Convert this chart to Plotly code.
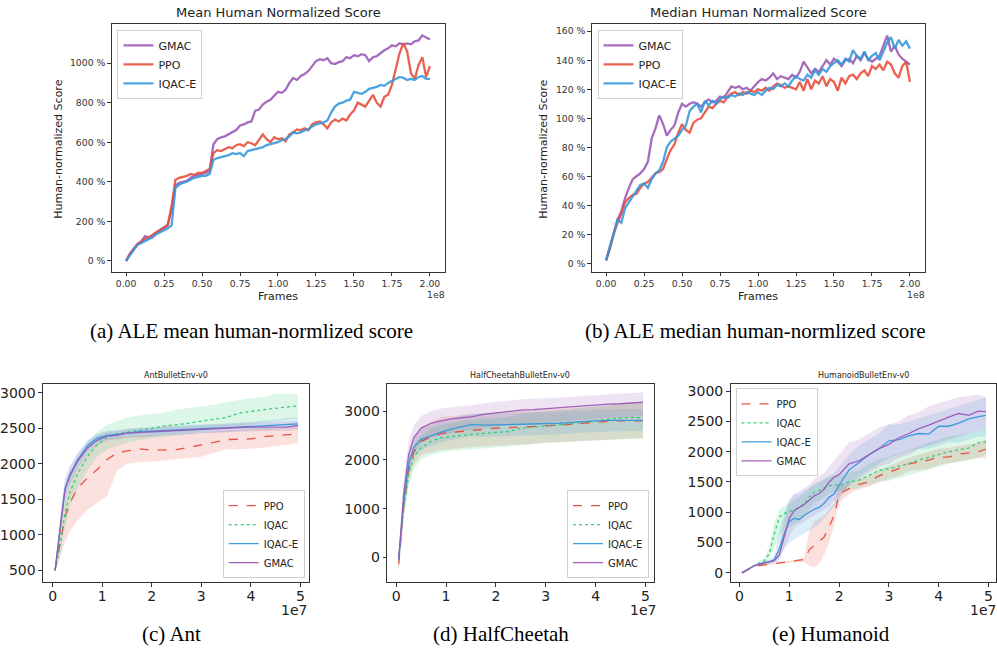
import plotly.graph_objects as go

W, H = 997, 649

# ---------------- ALE data (frames in units of 1e8, scores in %) ----------------
ale_frames = [i * 0.025 for i in range(81)]

ale_mean_gmac = [0, 35, 60, 85, 100, 125, 118, 130, 145, 158, 170, 185, 260, 382, 395, 400, 405, 420, 430, 435,
                 440, 445, 455, 590, 615, 625, 630, 640, 650, 662, 685, 690, 700, 705, 760, 765, 790, 805, 815, 835,
                 855, 850, 865, 900, 925, 915, 935, 945, 960, 985, 1010, 1020, 1015, 1025, 1000, 995, 1005, 1010, 1030, 1025,
                 1040, 1035, 1045, 1040, 1010, 1030, 1035, 1050, 1065, 1075, 1090, 1085, 1100, 1095, 1100, 1095, 1110, 1115, 1140, 1130,
                 1120]
ale_mean_ppo = [0, 35, 60, 85, 95, 110, 120, 130, 145, 155, 165, 180, 280, 410, 420, 425, 430, 440, 435, 445,
                445, 455, 465, 545, 560, 555, 565, 575, 570, 585, 590, 580, 600, 595, 585, 610, 640, 615, 600, 625,
                615, 620, 605, 640, 650, 665, 660, 670, 660, 690, 700, 705, 690, 670, 700, 715, 705, 720, 710, 740,
                760, 800, 790, 780, 810, 840, 800, 780, 830, 840, 890, 970, 1050, 1100, 1060, 950, 920, 990, 1030, 930,
                985]
ale_mean_iqace = [0, 30, 55, 80, 90, 100, 110, 120, 135, 145, 155, 165, 180, 370, 385, 395, 400, 410, 420, 425,
                  430, 430, 440, 510, 520, 525, 530, 535, 545, 540, 545, 530, 555, 560, 565, 570, 575, 585, 590, 595,
                  600, 610, 615, 630, 650, 645, 650, 660, 665, 680, 690, 695, 700, 710, 750, 780, 795, 800, 810, 815,
                  855, 850, 845, 855, 870, 875, 880, 890, 885, 900, 910, 920, 930, 925, 915, 920, 915, 930, 935, 920,
                  920]

ale_median_gmac = [2, 12, 20, 30, 36, 45, 52, 58, 60, 62, 65, 70, 86, 93, 102, 96, 88, 92, 95, 104,
                   110, 108, 110, 111, 110, 108, 111, 113, 111, 112, 115, 114, 118, 122, 121, 122, 120, 121, 119, 122,
                   125, 127, 126, 128, 131, 127, 129, 128, 127, 130, 128, 132, 139, 135, 131, 134, 132, 136, 140, 137,
                   141, 139, 136, 140, 141, 138, 143, 140, 145, 141, 139, 141, 143, 150, 157, 146, 150, 144, 141, 139,
                   137]
ale_median_ppo = [2, 10, 20, 28, 34, 42, 45, 47, 48, 52, 55, 56, 59, 62, 63, 65, 72, 78, 82, 90,
                  96, 92, 90, 97, 99, 100, 104, 108, 107, 110, 112, 111, 115, 117, 118, 116, 118, 117, 119, 118,
                  120, 119, 121, 119, 122, 124, 123, 121, 122, 121, 120, 125, 119, 127, 120, 126, 124, 129, 122, 127,
                  125, 119, 128, 124, 129, 130, 127, 131, 133, 129, 136, 134, 137, 133, 139, 137, 131, 128, 136, 139,
                  125]
ale_median_iqace = [2, 12, 20, 30, 28, 38, 42, 46, 50, 54, 55, 52, 58, 62, 64, 70, 80, 84, 86, 88,
                    92, 95, 105, 108, 110, 104, 112, 109, 112, 110, 113, 115, 114, 116, 115, 117, 116, 118, 117, 116,
                    118, 116, 119, 121, 120, 123, 122, 124, 122, 126, 129, 127, 126, 130, 128, 133, 130, 134, 132, 136,
                    138, 140, 137, 141, 139, 147, 143, 141, 146, 140, 143, 145, 140, 146, 152, 156, 148, 154, 150, 153,
                    148]

ale_x_ticks = [0, 0.25, 0.5, 0.75, 1.0, 1.25, 1.5, 1.75, 2.0]
ale_x_ticktext = ["0.00", "0.25", "0.50", "0.75", "1.00", "1.25", "1.50", "1.75", "2.00"]
mean_y_ticks = [0, 200, 400, 600, 800, 1000]
mean_y_ticktext = ["0 %", "200 %", "400 %", "600 %", "800 %", "1000 %"]
median_y_ticks = [0, 20, 40, 60, 80, 100, 120, 140, 160]
median_y_ticktext = ["0 %", "20 %", "40 %", "60 %", "80 %", "100 %", "120 %", "140 %", "160 %"]

# ---------------- PyBullet data (steps in units of 1e7) ----------------
bullet_steps = [0.05, 0.15, 0.25, 0.35, 0.5, 0.7, 0.9, 1.1, 1.3, 1.5, 1.75, 2.0, 2.25, 2.5, 2.75, 3.0,
                3.25, 3.5, 3.75, 4.0, 4.25, 4.5, 4.75, 4.95]

ant_ppo = [500, 900, 1250, 1450, 1650, 1800, 1920, 2060, 2150, 2180, 2210, 2190, 2200, 2200, 2230, 2260,
           2300, 2340, 2340, 2350, 2380, 2400, 2410, 2415]
ant_ppo_lo = [480, 700, 900, 1050, 1200, 1350, 1450, 1550, 1900, 2000, 2020, 2030, 2050, 2060, 2080, 2100,
              2150, 2200, 2210, 2210, 2230, 2250, 2270, 2290]
ant_ppo_hi = [540, 1100, 1500, 1750, 1950, 2150, 2280, 2350, 2370, 2380, 2390, 2400, 2400, 2410, 2420, 2440,
              2460, 2470, 2480, 2490, 2500, 2510, 2520, 2530]
ant_iqac = [500, 850, 1300, 1600, 1850, 2100, 2270, 2370, 2420, 2440, 2470, 2500, 2530, 2545, 2570, 2600,
            2620, 2650, 2710, 2740, 2760, 2780, 2800, 2815]
ant_iqac_lo = [480, 700, 1100, 1400, 1650, 1900, 2100, 2200, 2250, 2300, 2330, 2360, 2380, 2400, 2420, 2450,
               2470, 2500, 2530, 2550, 2570, 2600, 2620, 2640]
ant_iqac_hi = [540, 1000, 1500, 1800, 2050, 2300, 2450, 2550, 2600, 2650, 2680, 2700, 2720, 2760, 2780, 2800,
               2830, 2870, 2900, 2920, 2940, 2980, 2990, 2970]
ant_iqace = [500, 1100, 1650, 1850, 2050, 2250, 2360, 2400, 2410, 2430, 2450, 2460, 2470, 2475, 2480, 2490,
             2500, 2505, 2515, 2525, 2540, 2550, 2560, 2560]
ant_iqace_lo = [480, 950, 1500, 1730, 1950, 2170, 2290, 2340, 2350, 2370, 2390, 2400, 2410, 2415, 2420, 2430,
                2440, 2445, 2455, 2465, 2480, 2490, 2500, 2500]
ant_iqace_hi = [520, 1250, 1800, 1970, 2150, 2330, 2430, 2460, 2470, 2490, 2510, 2520, 2530, 2535, 2540, 2550,
                2560, 2565, 2575, 2590, 2610, 2620, 2650, 2650]
ant_gmac = [500, 1080, 1630, 1830, 2030, 2220, 2330, 2390, 2400, 2430, 2440, 2440, 2460, 2470, 2470, 2490,
            2495, 2500, 2510, 2515, 2520, 2525, 2520, 2540]
ant_gmac_lo = [480, 950, 1500, 1720, 1930, 2140, 2260, 2330, 2340, 2370, 2380, 2380, 2400, 2410, 2410, 2430,
               2435, 2440, 2450, 2455, 2460, 2465, 2460, 2480]
ant_gmac_hi = [520, 1200, 1760, 1940, 2130, 2300, 2400, 2450, 2460, 2490, 2500, 2500, 2520, 2530, 2530, 2550,
               2555, 2560, 2570, 2575, 2580, 2590, 2590, 2600]

hc_ppo = [-140, 1050, 1800, 2150, 2380, 2470, 2540, 2560, 2580, 2600, 2630, 2650, 2660, 2670, 2680, 2700,
          2710, 2730, 2750, 2780, 2790, 2800, 2800, 2800]
hc_ppo_lo = [-300, 800, 1550, 1900, 2100, 2150, 2200, 2220, 2240, 2260, 2280, 2290, 2300, 2310, 2330, 2350,
             2360, 2380, 2390, 2400, 2410, 2420, 2440, 2450]
hc_ppo_hi = [20, 1300, 2050, 2400, 2650, 2780, 2880, 2900, 2920, 2940, 2960, 2980, 2990, 3000, 3010, 3030,
             3040, 3060, 3080, 3100, 3120, 3140, 3150, 3150]
hc_iqac = [-60, 1000, 1700, 2050, 2250, 2380, 2450, 2480, 2500, 2520, 2540, 2550, 2580, 2650, 2670, 2700,
           2720, 2740, 2770, 2800, 2830, 2860, 2870, 2860]
hc_iqac_lo = [-250, 800, 1450, 1800, 2000, 2100, 2150, 2180, 2200, 2220, 2240, 2260, 2280, 2300, 2320, 2350,
              2360, 2380, 2390, 2400, 2410, 2420, 2430, 2440]
hc_iqac_hi = [100, 1200, 1950, 2300, 2500, 2650, 2720, 2760, 2790, 2820, 2840, 2860, 2880, 2950, 2970, 3000,
              3020, 3040, 3070, 3100, 3130, 3150, 3160, 3160]
hc_iqace = [-40, 1150, 1900, 2250, 2420, 2500, 2570, 2630, 2680, 2720, 2710, 2710, 2720, 2730, 2735, 2740,
            2750, 2770, 2790, 2800, 2810, 2810, 2815, 2810]
hc_iqace_lo = [-150, 950, 1700, 2050, 2200, 2280, 2350, 2400, 2450, 2480, 2470, 2470, 2480, 2490, 2500, 2510,
               2520, 2540, 2560, 2570, 2580, 2580, 2590, 2590]
hc_iqace_hi = [70, 1350, 2100, 2450, 2640, 2720, 2790, 2850, 2900, 2950, 2950, 2950, 2960, 2970, 2970, 2980,
               2990, 3000, 3020, 3030, 3040, 3040, 3040, 3030]
hc_gmac = [-40, 1300, 2100, 2450, 2650, 2750, 2800, 2840, 2860, 2880, 2930, 2960, 2990, 3020, 3030, 3050,
           3060, 3080, 3100, 3120, 3140, 3150, 3160, 3180]
hc_gmac_lo = [-200, 1000, 1800, 2150, 2350, 2450, 2500, 2550, 2570, 2600, 2650, 2680, 2710, 2740, 2750, 2770,
              2780, 2800, 2820, 2840, 2860, 2870, 2880, 2900]
hc_gmac_hi = [100, 1600, 2400, 2700, 2900, 3000, 3050, 3080, 3100, 3120, 3160, 3190, 3210, 3240, 3250, 3260,
              3280, 3290, 3310, 3330, 3350, 3360, 3370, 3380]

hum_steps = [0.05, 0.3, 0.5, 0.6, 0.7, 0.8, 0.9, 1.0, 1.1, 1.2, 1.3, 1.4, 1.5, 1.6, 1.7, 1.8, 1.9, 2.0,
             2.2, 2.4, 2.6, 2.8, 3.0, 3.2, 3.4, 3.6, 3.8, 4.0, 4.2, 4.4, 4.6, 4.8, 4.95]
hum_ppo = [0, 110, 130, 140, 150, 160, 170, 180, 190, 200, 220, 380, 450, 510, 590, 760, 950, 1300,
           1390, 1460, 1500, 1600, 1660, 1720, 1800, 1830, 1860, 1910, 1910, 1960, 1980, 2000, 2040]
hum_ppo_lo = [0, 100, 120, 130, 140, 150, 155, 160, 170, 175, 180, 120, 90, 150, 300, 500, 800, 1150,
              1300, 1380, 1420, 1500, 1550, 1600, 1680, 1700, 1720, 1780, 1800, 1840, 1870, 1900, 1880]
hum_ppo_hi = [0, 120, 140, 150, 160, 170, 185, 200, 210, 225, 260, 700, 850, 900, 950, 1050, 1150, 1450,
              1480, 1550, 1600, 1700, 1760, 1830, 1900, 1950, 2000, 2050, 2060, 2100, 2120, 2150, 2200]
hum_iqac = [0, 120, 200, 320, 650, 920, 980, 1000, 1040, 1090, 1130, 1250, 1330, 1360, 1400, 1440, 1450, 1440,
            1500, 1530, 1610, 1690, 1720, 1760, 1800, 1860, 1910, 1960, 2000, 2030, 2060, 2150, 2160]
hum_iqac_lo = [0, 110, 170, 230, 400, 600, 700, 750, 800, 850, 950, 1050, 1150, 1200, 1250, 1300, 1330, 1350,
               1360, 1400, 1450, 1500, 1520, 1560, 1600, 1650, 1700, 1750, 1800, 1830, 1860, 1900, 1950]
hum_iqac_hi = [0, 130, 250, 450, 850, 1050, 1100, 1150, 1200, 1250, 1320, 1400, 1480, 1500, 1550, 1580, 1600, 1600,
               1650, 1700, 1800, 1870, 1920, 1970, 2020, 2080, 2150, 2200, 2250, 2280, 2300, 2350, 2400]
hum_iqace = [0, 120, 170, 180, 220, 400, 650, 850, 900, 880, 950, 1000, 1050, 1080, 1150, 1250, 1300, 1450,
             1700, 1820, 1950, 2050, 2180, 2200, 2260, 2300, 2290, 2420, 2420, 2470, 2540, 2580, 2600]
hum_iqace_lo = [0, 110, 140, 150, 160, 200, 400, 500, 550, 600, 650, 700, 750, 800, 900, 1000, 1100, 1200,
                1450, 1600, 1700, 1800, 1900, 1950, 2000, 2050, 2050, 2100, 2150, 2150, 2200, 2250, 2250]
hum_iqace_hi = [0, 130, 200, 220, 300, 700, 1000, 1200, 1300, 1300, 1350, 1400, 1450, 1500, 1550, 1600, 1650, 1750,
                1950, 2100, 2200, 2300, 2450, 2450, 2500, 2550, 2600, 2650, 2700, 2750, 2800, 2850, 2900]
hum_gmac = [0, 120, 160, 180, 200, 300, 600, 900, 1030, 1080, 1130, 1200, 1270, 1310, 1380, 1500, 1580, 1620,
            1800, 1850, 1950, 2050, 2120, 2230, 2300, 2380, 2440, 2510, 2570, 2630, 2600, 2670, 2660]
hum_gmac_lo = [0, 110, 140, 160, 180, 250, 400, 600, 750, 800, 850, 900, 950, 1000, 1050, 1100, 1200, 1250,
               1450, 1550, 1650, 1750, 1800, 1900, 1950, 2050, 2100, 2150, 2200, 2250, 2300, 2350, 2400]
hum_gmac_hi = [0, 130, 180, 200, 230, 400, 900, 1200, 1300, 1350, 1400, 1450, 1550, 1600, 1650, 1750, 1850, 1950,
               2150, 2200, 2300, 2400, 2450, 2500, 2600, 2650, 2750, 2800, 2850, 2900, 2920, 2950, 2900]

# ---------------- styling ----------------
C_GMAC = "#9b59b6"
C_PPO = "#e74c3c"
C_IQACE = "#3498db"
C_IQAC = "#2ecc71"


def rgba(hex_color, a):
    h = hex_color.lstrip("#")
    r, g, b = int(h[0:2], 16), int(h[2:4], 16), int(h[4:6], 16)
    return f"rgba({r},{g},{b},{a})"


def px(x):
    return x / W


def py(y):
    return 1 - y / H


fig = go.Figure()

# --- ALE panels ---
ale_series = [("GMAC", C_GMAC), ("PPO", C_PPO), ("IQAC-E", C_IQACE)]
mean_vals = [ale_mean_gmac, ale_mean_ppo, ale_mean_iqace]
median_vals = [ale_median_gmac, ale_median_ppo, ale_median_iqace]
for (name, col), yv in zip(ale_series, mean_vals):
    fig.add_trace(go.Scatter(x=ale_frames, y=yv, mode="lines", name=name, xaxis="x", yaxis="y",
                             line=dict(color=col, width=2.3), opacity=0.88, legend="legend"))
for (name, col), yv in zip(ale_series, median_vals):
    fig.add_trace(go.Scatter(x=ale_frames, y=yv, mode="lines", name=name, xaxis="x2", yaxis="y2",
                             line=dict(color=col, width=2.3), opacity=0.88, legend="legend2"))

# --- Bullet panels ---
bullet_panels = [
    ("x3", "y3", "legend3", bullet_steps,
     [("PPO", C_PPO, "dash", ant_ppo, ant_ppo_lo, ant_ppo_hi),
      ("IQAC", C_IQAC, "dot", ant_iqac, ant_iqac_lo, ant_iqac_hi),
      ("IQAC-E", C_IQACE, "solid", ant_iqace, ant_iqace_lo, ant_iqace_hi),
      ("GMAC", C_GMAC, "solid", ant_gmac, ant_gmac_lo, ant_gmac_hi)]),
    ("x4", "y4", "legend4", bullet_steps,
     [("PPO", C_PPO, "dash", hc_ppo, hc_ppo_lo, hc_ppo_hi),
      ("IQAC", C_IQAC, "dot", hc_iqac, hc_iqac_lo, hc_iqac_hi),
      ("IQAC-E", C_IQACE, "solid", hc_iqace, hc_iqace_lo, hc_iqace_hi),
      ("GMAC", C_GMAC, "solid", hc_gmac, hc_gmac_lo, hc_gmac_hi)]),
    ("x5", "y5", "legend5", hum_steps,
     [("PPO", C_PPO, "dash", hum_ppo, hum_ppo_lo, hum_ppo_hi),
      ("IQAC", C_IQAC, "dot", hum_iqac, hum_iqac_lo, hum_iqac_hi),
      ("IQAC-E", C_IQACE, "solid", hum_iqace, hum_iqace_lo, hum_iqace_hi),
      ("GMAC", C_GMAC, "solid", hum_gmac, hum_gmac_lo, hum_gmac_hi)]),
]
for xa, ya, lg, xs, series in bullet_panels:
    for name, col, dash, mean, lo, hi in series:
        fig.add_trace(go.Scatter(x=list(xs) + list(xs)[::-1], y=list(hi) + list(lo)[::-1],
                                 fill="toself", fillcolor=rgba(col, 0.17), line=dict(width=0),
                                 mode="lines", hoverinfo="skip", showlegend=False, xaxis=xa, yaxis=ya))
    for name, col, dash, mean, lo, hi in series:
        fig.add_trace(go.Scatter(x=xs, y=mean, mode="lines", name=name, xaxis=xa, yaxis=ya,
                                 line=dict(color=col, width=1.3, dash=dash), opacity=0.95, legend=lg))

axis_common = dict(showline=True, mirror=True, linecolor="#333333", linewidth=1, ticks="outside",
                   ticklen=3.5, tickwidth=0.8, tickcolor="#333333", showgrid=False, zeroline=False)
top_font = dict(family="DejaVu Sans", size=9.3, color="#333333")
bot_font = dict(family="DejaVu Sans", size=14, color="#222222")

top_y = [py(271), py(23)]
bot_y = [py(582.3), py(383.3)]

layout = dict(
    width=W, height=H, margin=dict(l=0, r=0, t=0, b=0), paper_bgcolor="white", plot_bgcolor="white",
    font=dict(family="DejaVu Sans"),
    xaxis=dict(domain=[px(110), px(444)], range=[-0.094, 2.10], anchor="y", tickvals=ale_x_ticks,
               ticktext=ale_x_ticktext, tickfont=top_font, **axis_common),
    yaxis=dict(domain=top_y, range=[-54, 1198], anchor="x", tickvals=mean_y_ticks,
               ticktext=mean_y_ticktext, tickfont=top_font, **axis_common),
    xaxis2=dict(domain=[px(591), px(925)], range=[-0.094, 2.10], anchor="y2", tickvals=ale_x_ticks,
                ticktext=ale_x_ticktext, tickfont=top_font, **axis_common),
    yaxis2=dict(domain=top_y, range=[-5.7, 165], anchor="x2", tickvals=median_y_ticks,
                ticktext=median_y_ticktext, tickfont=top_font, **axis_common),
    xaxis3=dict(domain=[px(41), px(308)], range=[-0.195, 5.18], anchor="y3", dtick=1, tick0=0,
                tickfont=bot_font, ticklabelstandoff=-3, **axis_common),
    yaxis3=dict(domain=bot_y, range=[331, 3126], anchor="x3", dtick=500, tick0=0,
                tickfont=bot_font, **axis_common),
    xaxis4=dict(domain=[px(386), px(653.3)], range=[-0.18, 5.17], anchor="y4", dtick=1, tick0=0,
                tickfont=bot_font, ticklabelstandoff=-3, **axis_common),
    yaxis4=dict(domain=[py(582.3), py(384)], range=[-511, 3546], anchor="x4", dtick=1000, tick0=0,
                tickfont=bot_font, **axis_common),
    xaxis5=dict(domain=[px(730), px(996)], range=[-0.18, 5.15], anchor="y5", dtick=1, tick0=0,
                tickfont=bot_font, ticklabelstandoff=-3, **axis_common),
    yaxis5=dict(domain=bot_y, range=[-158, 3122], anchor="x5", dtick=500, tick0=0,
                tickfont=bot_font, **axis_common),
)

top_legend = dict(xanchor="left", yanchor="top", bgcolor="rgba(255,255,255,0.85)", bordercolor="#d0d0d0",
                  borderwidth=1, font=dict(family="DejaVu Sans", size=11, color="#222222"),
                  itemwidth=30, tracegroupgap=0)
bot_legend = dict(bgcolor="rgba(255,255,255,0.85)", bordercolor="#d0d0d0", borderwidth=1,
                  font=dict(family="DejaVu Sans", size=10, color="#222222"), itemwidth=30, tracegroupgap=0)
layout["legend"] = dict(x=px(115.7), y=py(29), **top_legend)
layout["legend2"] = dict(x=px(596.7), y=py(29), **top_legend)
layout["legend3"] = dict(x=px(303.3), y=py(578), xanchor="right", yanchor="bottom", **bot_legend)
layout["legend4"] = dict(x=px(648.3), y=py(578), xanchor="right", yanchor="bottom", **bot_legend)
layout["legend5"] = dict(x=px(735), y=py(388), xanchor="left", yanchor="top", **bot_legend)

fig.update_layout(**layout)


def ann(text, x, y, size, family="DejaVu Sans", color="#222222", angle=0, xanchor="center", yanchor="middle"):
    fig.add_annotation(text=text, x=px(x), y=py(y), xref="paper", yref="paper", showarrow=False,
                       font=dict(family=family, size=size, color=color), textangle=angle,
                       xanchor=xanchor, yanchor=yanchor)


# panel titles
ann("Mean Human Normalized Score", 277, 12, 13)
ann("Median Human Normalized Score", 758, 12, 13)
ann("AntBulletEnv-v0", 174.5, 375, 8)
ann("HalfCheetahBulletEnv-v0", 519.5, 375, 8)
ann("HumanoidBulletEnv-v0", 863, 375, 8)

# axis titles & offsets
ann("Frames", 277, 296, 11)
ann("Frames", 758, 296, 11)
ann("1e8", 435, 294, 9.3, color="#333333")
ann("1e8", 916, 294, 9.3, color="#333333")
ann("Human-normalized Score", 57, 148, 11, angle=-90)
ann("Human-normalized Score", 543, 148, 11, angle=-90)
ann("1e7", 293, 610, 14)
ann("1e7", 642, 610, 14)
ann("1e7", 983, 610, 14)

# captions
cap = "Liberation Serif"
ann("(a) ALE mean human-normlized score", 250, 331, 21, family=cap, color="#000000")
ann("(b) ALE median human-normlized score", 755, 331, 21, family=cap, color="#000000")
ann("(c) Ant", 170, 634, 21, family=cap, color="#000000")
ann("(d) HalfCheetah", 500, 634, 21, family=cap, color="#000000")
ann("(e) Humanoid", 831, 634, 21, family=cap, color="#000000")

fig.write_html("out.html", config={"displayModeBar": False},
               post_script="document.body.style.margin='0px';document.body.style.overflow='hidden';")
